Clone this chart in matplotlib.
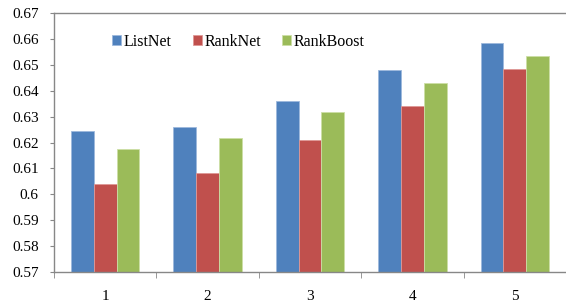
import numpy as np
import matplotlib.pyplot as plt

plt.rcParams['font.family'] = ['Liberation Serif', 'DejaVu Serif']

categories = ['1', '2', '3', '4', '5']
listnet = [0.6243, 0.6261, 0.6360, 0.6481, 0.6584]
ranknet = [0.6040, 0.6083, 0.6210, 0.6342, 0.6482]
rankboost = [0.6176, 0.6219, 0.6319, 0.6429, 0.6535]

colors = ['#4F81BD', '#C0504D', '#9BBB59']
edges = ['#9DB9DC', '#DE9896', '#CCDFA6']
names = ['ListNet', 'RankNet', 'RankBoost']

fig = plt.figure(figsize=(5.66, 3.03), dpi=100)
ax = fig.add_axes([54/566, 1-272/303, 1-54/566, (272-13)/303])

x = np.arange(len(categories))
w = 0.223
for i, vals in enumerate([listnet, ranknet, rankboost]):
    ax.bar(x + (i-1)*w, np.array(vals) - 0.57, w, bottom=0.57, color=colors[i],
           edgecolor=edges[i], linewidth=0.6, label=names[i], zorder=2)

ax.set_ylim(0.57, 0.67)
ax.set_xlim(-0.5, 4.5)
ax.set_yticks(np.arange(0.57, 0.6701, 0.01))
ax.set_yticklabels(['0.57', '0.58', '0.59', '0.6', '0.61', '0.62', '0.63',
                    '0.64', '0.65', '0.66', '0.67'])
ax.set_xticks(x)
ax.set_xticklabels(categories)
ax.set_xticks(np.arange(-0.5, 4.6, 1), minor=True)
ax.tick_params(axis='x', which='major', length=0, pad=13, labelsize=11)
ax.tick_params(axis='x', which='minor', length=4, color='#878787', direction='out')
ax.tick_params(axis='y', length=3, color='#878787', direction='out', labelsize=11, pad=8)

for s in ['left', 'bottom', 'top']:
    ax.spines[s].set_color('#878787')
    ax.spines[s].set_linewidth(1.0)
ax.spines['right'].set_visible(False)

ax.legend(loc='upper left', bbox_to_anchor=(0.085, 0.975), ncol=3, frameon=False,
          fontsize=11.5, handlelength=0.6, handleheight=0.6, handletextpad=0.15,
          columnspacing=1.3)

fig.savefig('out.png', dpi=100)
